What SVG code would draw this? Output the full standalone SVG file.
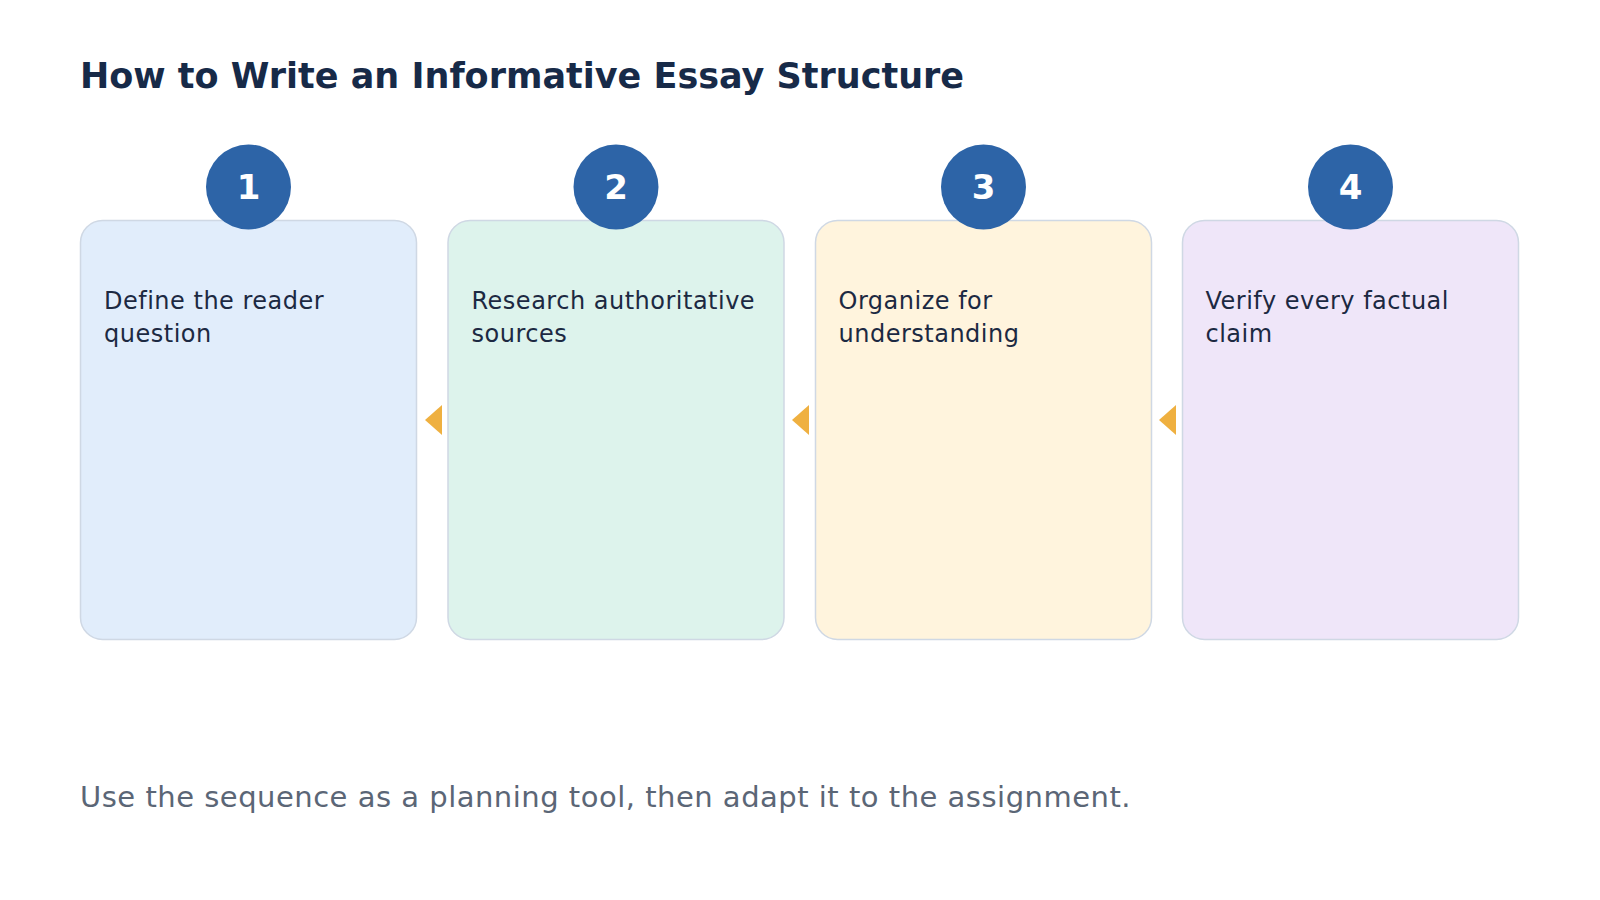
<svg xmlns="http://www.w3.org/2000/svg" width="1600" height="900" viewBox="0 0 1600 900">
<style>
.title{font-family:"DejaVu Sans",sans-serif;font-weight:bold;font-size:35px;fill:#172a48}
.card{stroke:#cfd8e4;stroke-width:1.5}
.badge{fill:#2d64a7}
.num{font-family:"DejaVu Sans",sans-serif;font-weight:bold;font-size:34px;fill:#ffffff;text-anchor:middle}
.body{font-family:"DejaVu Sans",sans-serif;font-size:24px;letter-spacing:0.5px;fill:#1c2942}
.foot{font-family:"DejaVu Sans",sans-serif;font-size:29px;letter-spacing:0.5px;fill:#5b6676}
.arrow{fill:#efb040}
</style>
<rect width="1600" height="900" fill="#ffffff"/>
<text class="title" x="80" y="88">How to Write an Informative Essay Structure</text>
<g id="connectors">
<polygon class="arrow" points="442,405 425,420 442,435"/>
<polygon class="arrow" points="809,405 792,420 809,435"/>
<polygon class="arrow" points="1176,405 1159,420 1176,435"/>
</g>
<g id="step1">
<rect class="card" x="80.5" y="220.5" width="336" height="419" rx="22" fill="#e1edfb"/>
<circle class="badge" cx="248.5" cy="187" r="42.5"/>
<text class="num" x="248.5" y="199">1</text>
<text class="body" x="104" y="309">Define the reader</text>
<text class="body" x="104" y="342">question</text>
</g>
<g id="step2">
<rect class="card" x="448" y="220.5" width="336" height="419" rx="22" fill="#ddf3ec"/>
<circle class="badge" cx="616" cy="187" r="42.5"/>
<text class="num" x="616" y="199">2</text>
<text class="body" x="471.5" y="309">Research authoritative</text>
<text class="body" x="471.5" y="342">sources</text>
</g>
<g id="step3">
<rect class="card" x="815.5" y="220.5" width="336" height="419" rx="22" fill="#fff4dd"/>
<circle class="badge" cx="983.5" cy="187" r="42.5"/>
<text class="num" x="983.5" y="199">3</text>
<text class="body" x="838.5" y="309">Organize for</text>
<text class="body" x="838.5" y="342">understanding</text>
</g>
<g id="step4">
<rect class="card" x="1182.5" y="220.5" width="336" height="419" rx="22" fill="#efe6f9"/>
<circle class="badge" cx="1350.5" cy="187" r="42.5"/>
<text class="num" x="1350.5" y="199">4</text>
<text class="body" x="1205.5" y="309">Verify every factual</text>
<text class="body" x="1205.5" y="342">claim</text>
</g>
<text class="foot" x="80" y="807">Use the sequence as a planning tool, then adapt it to the assignment.</text>
</svg>
